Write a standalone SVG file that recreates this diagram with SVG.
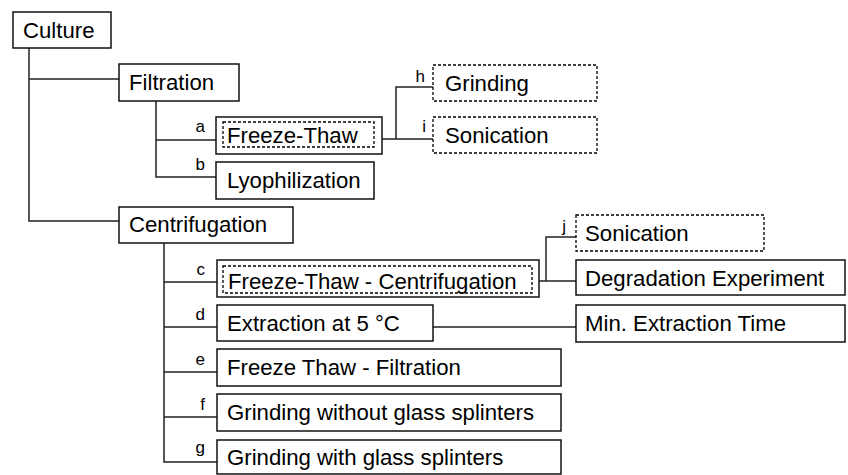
<svg xmlns="http://www.w3.org/2000/svg" width="848" height="475" viewBox="0 0 848 475">
<style>
.box{fill:#fff;stroke:#111;stroke-width:1.5}
.dash{fill:none;stroke:#000;stroke-width:1.3;stroke-dasharray:3 2}
.t{font-family:"Liberation Sans",Arial,sans-serif;font-size:22.2px;fill:#000}
.l{font-family:"Liberation Sans",Arial,sans-serif;font-size:17px;fill:#000;text-anchor:end}
.c{fill:none;stroke:#222;stroke-width:1.5}
</style>
<rect width="848" height="475" fill="#fff"/>
<g id="connectors">
<path class="c" d="M29 48V221H119M29 79H119"/>
<path class="c" d="M156 101V177H216M156 140H216"/>
<path class="c" d="M382 139H433M396 139V87H433"/>
<path class="c" d="M164 243V462H217M164 282H217M164 327H217M164 372H217M164 417H217"/>
<path class="c" d="M539 281H576M546 281V237H576"/>
<path class="c" d="M433 327H576"/>
</g>
<g id="labels">
<text class="l" x="205" y="132">a</text>
<text class="l" x="205" y="170">b</text>
<text class="l" x="205" y="275">c</text>
<text class="l" x="205" y="320">d</text>
<text class="l" x="205" y="365">e</text>
<text class="l" x="205" y="410">f</text>
<text class="l" x="205" y="453">g</text>
<text class="l" x="425" y="82">h</text>
<text class="l" x="426" y="132">i</text>
<text class="l" x="566" y="232">j</text>
</g>
<g id="culture"><rect class="box" x="13" y="12" width="98" height="36"/><text class="t" x="23" y="38">Culture</text></g>
<g id="filtration"><rect class="box" x="119" y="64" width="120" height="37"/><text class="t" x="129" y="90">Filtration</text></g>
<g id="a-freeze-thaw"><rect class="box" x="216" y="117" width="166" height="37"/><rect class="dash" x="223" y="122" width="151" height="25"/><text class="t" x="227" y="143">Freeze-Thaw</text></g>
<g id="b-lyophilization"><rect class="box" x="216" y="162" width="158" height="37"/><text class="t" x="227" y="188">Lyophilization</text></g>
<g id="h-grinding"><rect class="dash" x="433" y="65" width="164" height="36"/><text class="t" x="445" y="91">Grinding</text></g>
<g id="i-sonication"><rect class="dash" x="433" y="117" width="164" height="36"/><text class="t" x="445" y="143">Sonication</text></g>
<g id="centrifugation"><rect class="box" x="119" y="207" width="174" height="36"/><text class="t" x="129" y="232">Centrifugation</text></g>
<g id="c-freeze-thaw-centrifugation"><rect class="box" x="217" y="260" width="322" height="37"/><rect class="dash" x="223" y="266" width="309" height="27"/><text class="t" x="228" y="289">Freeze-Thaw - Centrifugation</text></g>
<g id="j-sonication"><rect class="dash" x="576" y="215" width="188" height="36"/><text class="t" x="585" y="241">Sonication</text></g>
<g id="degradation"><rect class="box" x="576" y="260" width="269" height="35"/><text class="t" x="585" y="286">Degradation Experiment</text></g>
<g id="d-extraction"><rect class="box" x="217" y="305" width="216" height="36"/><text class="t" x="227" y="331">Extraction at 5 °C</text></g>
<g id="min-extraction"><rect class="box" x="576" y="305" width="269" height="37"/><text class="t" x="585" y="331">Min. Extraction Time</text></g>
<g id="e-freeze-thaw-filtration"><rect class="box" x="217" y="349" width="344" height="37"/><text class="t" x="227" y="375">Freeze Thaw - Filtration</text></g>
<g id="f-grinding-without"><rect class="box" x="217" y="394" width="344" height="37"/><text class="t" x="227" y="420">Grinding without glass splinters</text></g>
<g id="g-grinding-with"><rect class="box" x="217" y="440" width="344" height="34"/><text class="t" x="227" y="465">Grinding with glass splinters</text></g>
</svg>
